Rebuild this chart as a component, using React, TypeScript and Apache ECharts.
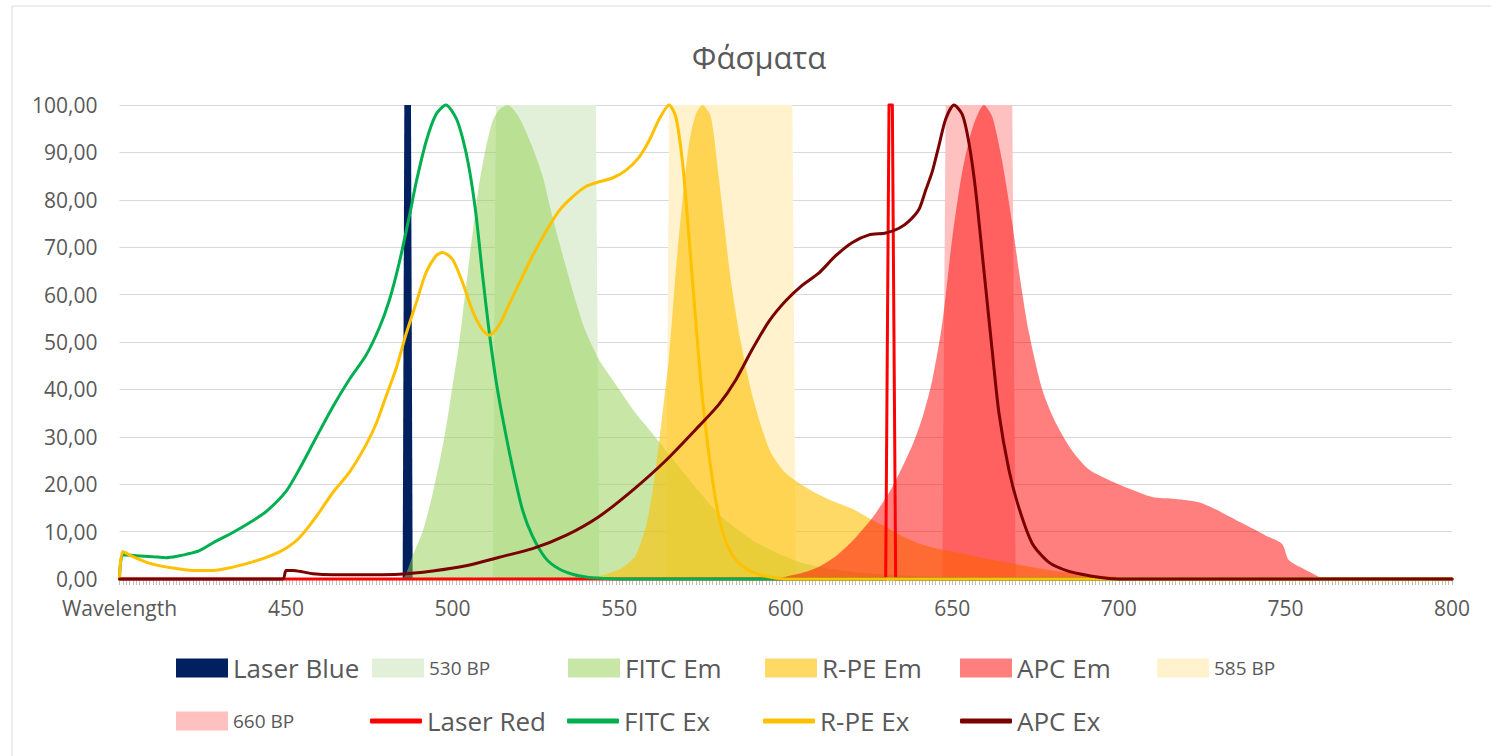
import React, { useEffect, useRef } from "react";
import * as echarts from "echarts";

type P = [number, number];

// ---- data (wavelength nm, relative intensity %) ----
const laserBlue: P[] = [[485, 0], [485.5, 100], [487.5, 100], [488, 0]];
const bp530: P[] = [[512, 0], [513, 100], [543, 100], [544, 0]];
const bp585: P[] = [[564, 0], [565, 100], [602, 100], [603, 0]];
const bp660: P[] = [[647, 0], [648, 100], [668, 100], [669, 0]];

const fitcEm: P[] = [
  [485, 0], [486, 1], [488, 4.9], [491, 10], [494, 18], [497, 28], [499, 36.2], [502, 50], [504, 61.6],
  [506, 73], [508, 83.5], [510, 91], [512, 96.6], [514, 99], [516.5, 100], [520, 97.3], [524, 91],
  [527, 85], [529.5, 77.7], [532, 71], [534.5, 64.6], [537, 58.5], [539.5, 53], [542, 49], [544.5, 45.6],
  [549.5, 40.5], [554.5, 35.4], [559.5, 31.1], [564.5, 26.7], [569.5, 22.3], [574.5, 18], [580, 13.6],
  [585, 10.7], [590, 8.2], [595, 6.3], [600, 4.7], [605, 3.4], [615, 2], [625, 1.2], [640, 0.6],
  [660, 0.3], [690, 0], [800, 0],
];

const rpeEm: P[] = [
  [540, 0], [545, 0.8], [550, 2], [553, 3.5], [555, 5], [558, 11], [560, 18.5], [562, 29], [563.5, 38],
  [565, 47], [567, 65], [569, 80], [571, 92], [573, 98], [575, 100], [577.5, 97.5], [579.5, 87],
  [581.5, 75], [583.5, 63], [586.5, 50], [589.5, 40], [592.5, 32.5], [595.5, 26.7], [600, 22.3],
  [605, 19.8], [610, 17.8], [615, 16.2], [620, 14.8], [625, 12.8], [630, 11], [635, 9], [640, 7.5],
  [645, 6.5], [650, 5.8], [660, 4.3], [670, 3], [680, 1.8], [690, 1], [700, 0.4], [710, 0], [800, 0],
];

const apcEm: P[] = [
  [595, 0], [600, 0.5], [605, 1.3], [610, 2.6], [615, 4.8], [620, 8], [626, 12.9], [632, 19.4],
  [638, 28.2], [641, 34], [644, 42], [647, 54], [650, 72], [653, 86], [656, 95], [659.5, 100],
  [662, 97.5], [665, 88], [668, 75], [670, 65], [673, 52], [677, 40], [681, 33], [686, 27], [691, 23.1],
  [697, 20.9], [703, 19.1], [710, 17.3], [717, 16.9], [724, 16.2], [729, 14.7], [735, 12.5], [740, 10.7],
  [744, 9.2], [749, 7.4], [751, 4], [755, 2.3], [758, 1.2], [762, 0], [800, 0],
];

const laserRed: P[] = [[400, 0], [630, 0], [631, 100], [632, 100], [633, 0], [800, 0]];

const fitcEx: P[] = [
  [400, 0], [401, 5.1], [405, 4.9], [410, 4.7], [414, 4.5], [418, 4.9], [420, 5.2], [424, 6.0],
  [428, 7.6], [434, 9.8], [440, 12.3], [444, 14.2], [450, 18.5], [454, 23.2], [459, 29.8], [464, 36.3],
  [469, 42.1], [474, 47.2], [478, 53], [481, 58.8], [484, 66.8], [487, 76.5], [489, 83.5], [492, 92.2],
  [495, 98], [498, 100], [501, 97.3], [503, 93], [505, 86.5], [507, 77], [509, 64], [511, 52],
  [513, 42], [515, 34], [518, 23.5], [521, 14.5], [524, 9], [528, 4.3], [532, 2.1], [536, 1],
  [540, 0.4], [545, 0.1], [550, 0], [800, 0],
];

const rpeEx: P[] = [
  [400, 0], [401, 5.8], [404, 4.7], [409, 3.3], [416, 2.3], [422, 1.8], [428, 1.8], [434, 2.5],
  [440, 3.6], [446, 5.1], [450, 6.5], [454, 8.7], [459, 13.1], [464, 18.2], [469, 22.5], [474, 28.3],
  [477, 32.7], [480, 38.5], [483, 44.3], [486, 51.6], [489, 58.1], [492, 64.6], [495, 68.2], [497, 68.9],
  [500, 67.4], [503, 62.5], [506, 56.5], [509, 52.5], [511, 51.4], [514, 53.6], [517, 58], [520, 62.4],
  [524, 68.2], [528, 73.3], [532, 77.7], [536, 80.6], [540, 82.8], [544, 83.8], [548, 84.6], [552, 86.2],
  [556, 89], [559, 92.5], [562, 97], [565, 100], [567, 97.5], [569, 88], [570.5, 76], [572, 63],
  [573.5, 50], [575, 38], [577, 26], [579, 16.5], [581, 10], [584, 5], [588, 2.2], [592, 0.9],
  [596, 0.3], [600, 0], [800, 0],
];

const apcEx: P[] = [
  [400, 0], [449, 0], [450, 1.8], [452, 1.8], [455, 1.5], [458, 1.1], [464, 0.9], [474, 0.9], [484, 1.0],
  [494, 1.7], [504, 2.8], [514, 4.6], [524, 6.4], [534, 9.2], [544, 13.2], [554, 18.7], [564, 25],
  [574, 32.3], [580, 36.9], [585, 42], [590, 48.5], [595, 54.4], [600, 58.7], [605, 62], [610, 64.6],
  [615, 68.2], [620, 71], [625, 72.6], [630, 73], [634, 74], [637, 75.5], [640, 78], [642, 82],
  [644, 86], [646, 91.5], [648, 97], [650.5, 100], [653, 98], [655, 92], [657, 82], [659.5, 65],
  [662, 48], [664, 35], [667, 23], [670, 15], [674, 7.5], [679, 3.5], [685, 1.6], [691, 0.7],
  [697, 0.1], [700, 0], [800, 0],
];

const TEXT = "#595959";
const FONT = "Open Sans";

function area(name: string, data: P[], color: string, z: number, smooth: number) {
  return {
    name,
    type: "line",
    data,
    symbol: "none",
    color,
    smooth,
    lineStyle: { width: 0, opacity: 0 },
    itemStyle: { color },
    areaStyle: { color, opacity: 1 },
    z,
  };
}

function line(name: string, data: P[], color: string, smooth: number) {
  return {
    name,
    type: "line",
    data,
    symbol: "none",
    color,
    smooth,
    clip: false,
    lineStyle: { width: 3, color, cap: "round", join: "round" },
    itemStyle: { color },
    z: 5,
  };
}

const COLORS: Record<string, string> = {
  "Laser Blue": "#002060",
  "530 BP": "#E2F0D9",
  "FITC Em": "rgba(146,208,80,0.5)",
  "R-PE Em": "rgba(255,192,0,0.6)",
  "APC Em": "rgba(255,0,0,0.5)",
  "585 BP": "#FFF2CC",
  "660 BP": "#FFC0C0",
  "Laser Red": "#FF0000",
  "FITC Ex": "#00B050",
  "R-PE Ex": "#FFC000",
  "APC Ex": "#7B0000",
};

// legend layout: [name, left, fontSize, isRect]
const legendRow1: [string, number, number, boolean][] = [
  ["Laser Blue", 176, 26, true],
  ["530 BP", 372, 19, true],
  ["FITC Em", 568, 26, true],
  ["R-PE Em", 765, 26, true],
  ["APC Em", 960, 26, true],
  ["585 BP", 1157, 19, true],
];
const legendRow2: [string, number, number, boolean][] = [
  ["660 BP", 176, 19, true],
  ["Laser Red", 370, 26, false],
  ["FITC Ex", 567, 26, false],
  ["R-PE Ex", 763, 26, false],
  ["APC Ex", 960, 26, false],
];

function makeLegends() {
  const out: any[] = [];
  const rows: [typeof legendRow1, number][] = [[legendRow1, 668], [legendRow2, 721]];
  for (const [row, cy] of rows) {
    for (const [name, left, fs, isRect] of row) {
      const ih = isRect ? 19 : 5;
      const h = Math.max(fs, ih);
      out.push({
        show: true,
        left,
        top: cy - h / 2,
        padding: 0,
        itemGap: 0,
        itemWidth: 52,
        itemHeight: ih,
        selectedMode: false,
        textStyle: { fontSize: fs, color: TEXT, fontFamily: FONT },
        data: [
          {
            name,
            icon: isRect ? "rect" : "roundRect",
            itemStyle: { color: COLORS[name], borderWidth: 0 },
          },
        ],
      });
    }
  }
  return out;
}

export default function App() {
  const ref = useRef<HTMLDivElement>(null);
  useEffect(() => {
    document.body.style.margin = "0";
    const chart = echarts.init(ref.current!, undefined, { renderer: "svg" });
    chart.setOption({
      animation: false,
      backgroundColor: "#ffffff",
      title: {
        text: "Φάσματα",
        left: 754,
        top: 36,
        textAlign: "center",
        textStyle: { fontSize: 31, fontWeight: "normal", color: TEXT, fontFamily: FONT },
      },
      graphic: [
        {
          type: "rect",
          shape: { x: 12, y: 6, width: 1500, height: 800 },
          style: { fill: "none", stroke: "#D9D9D9", lineWidth: 1 },
          silent: true,
        },
      ],
      legend: makeLegends(),
      grid: { left: 119.5, right: 39, top: 105, bottom: 177, containLabel: false },
      xAxis: {
        type: "value",
        min: 400,
        max: 800,
        interval: 50,
        axisLine: { show: true, lineStyle: { color: "#D9D9D9", width: 1 } },
        axisTick: { show: true, length: 6, lineStyle: { color: "#BFBFBF" } },
        minorTick: { show: true, splitNumber: 50, length: 6, lineStyle: { color: "#BFBFBF" } },
        splitLine: { show: false },
        axisLabel: {
          margin: 18,
          fontSize: 21,
          color: TEXT,
          fontFamily: FONT,
          showMinLabel: true,
          showMaxLabel: true,
          formatter: (v: number) => (v === 400 ? "Wavelength" : String(v)),
        },
      },
      yAxis: {
        type: "value",
        min: 0,
        max: 100,
        interval: 10,
        axisLine: { show: false },
        axisTick: { show: false },
        splitLine: { show: true, lineStyle: { color: "#D9D9D9", width: 1 } },
        axisLabel: {
          margin: 22,
          fontSize: 21,
          color: TEXT,
          fontFamily: FONT,
          formatter: (v: number) => v.toFixed(2).replace(".", ","),
        },
      },
      series: [
        area("530 BP", bp530, COLORS["530 BP"], 1, 0),
        area("585 BP", bp585, COLORS["585 BP"], 1, 0),
        area("660 BP", bp660, COLORS["660 BP"], 1, 0),
        area("Laser Blue", laserBlue, COLORS["Laser Blue"], 2, 0),
        area("FITC Em", fitcEm, COLORS["FITC Em"], 3, 0.25),
        area("R-PE Em", rpeEm, COLORS["R-PE Em"], 3, 0.25),
        area("APC Em", apcEm, COLORS["APC Em"], 3, 0.25),
        line("Laser Red", laserRed, COLORS["Laser Red"], 0),
        line("FITC Ex", fitcEx, COLORS["FITC Ex"], 0.25),
        line("R-PE Ex", rpeEx, COLORS["R-PE Ex"], 0.25),
        line("APC Ex", apcEx, COLORS["APC Ex"], 0.25),
      ],
    });
    return () => chart.dispose();
  }, []);
  return <div ref={ref} style={{ width: 1491, height: 756 }} />;
}
